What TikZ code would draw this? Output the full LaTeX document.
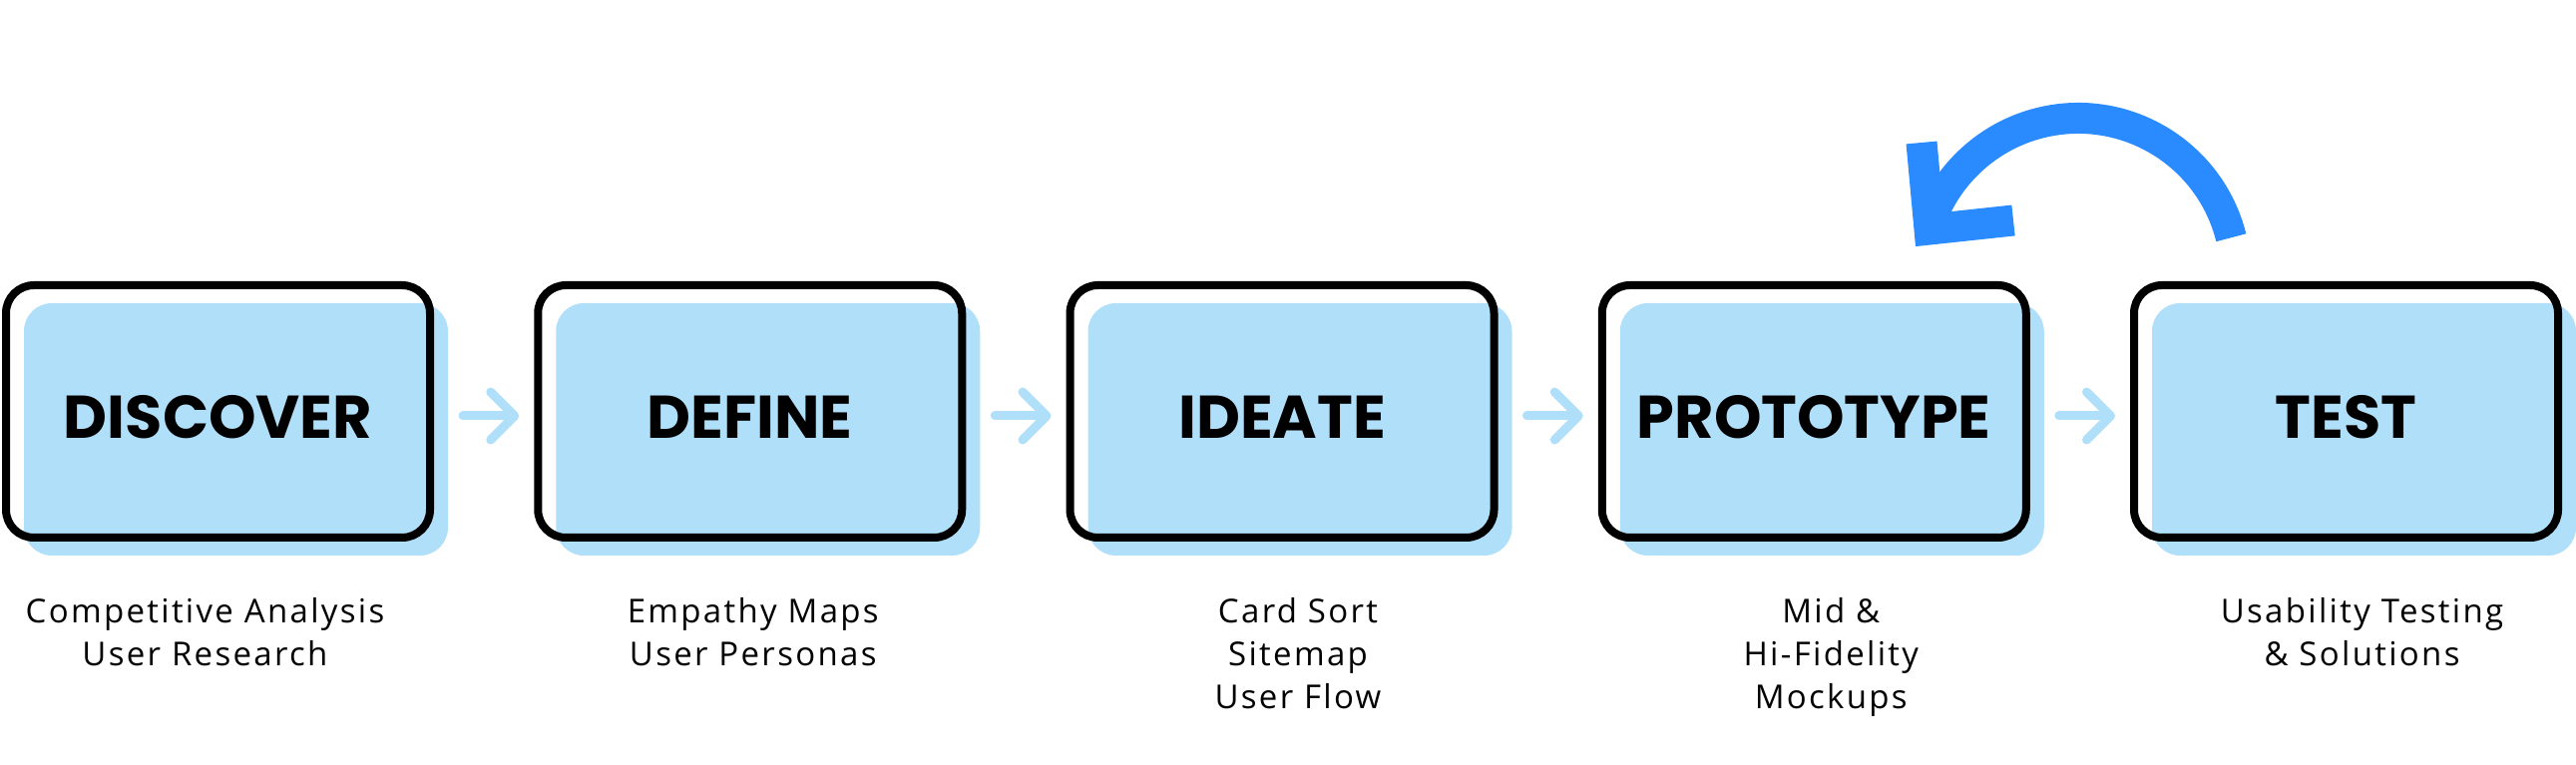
\documentclass[tikz,border=0pt]{standalone}
\usepackage{fontspec}
\setmainfont{Open Sans}[LetterSpace=7, Ligatures=NoCommon]
\newfontfamily\stagefont{Poppins}
\usetikzlibrary{positioning,shadows,arrows.meta}

\definecolor{paleblue}{RGB}{176,223,250}
\definecolor{loopblue}{RGB}{41,139,255}

\tikzset{
  stage/.style={draw=black, line width=8pt, rounded corners=28pt,
    minimum width=425pt, minimum height=253pt, inner sep=0pt,
    text height=55pt, text depth=0pt,
    font=\stagefont\bfseries\fontsize{60.5}{60.5}\selectfont,
    general shadow={fill=paleblue, shadow xshift=18pt, shadow yshift=-18pt}},
  desc/.style={align=center, inner sep=0pt, outer sep=0pt,
    font=\fontsize{33}{43.3}\selectfont},
  flow/.style={draw=paleblue, line width=9pt, line cap=round,
    -{Straight Barb[length=24pt, width=48pt, round]}},
  loopback/.style={draw=loopblue, line width=31pt}
}

\begin{document}
\begin{tikzpicture}[x=1pt, y=1pt]
  \useasboundingbox (0,0) rectangle (2582,767);

  % Stages
  \node[stage] (b1) at (218.5,354.5) {DISCOVER};
  \node[stage] (b2) at (751.75,354.5) {DEFINE};
  \node[stage] (b3) at (1285,354.5) {IDEATE};
  \node[stage] (b4) at (1818.25,354.5) {PROTOTYPE};
  \node[stage] (b5) at (2351.5,354.5) {TEST};

  % What each stage covers
  \node[desc, below=56pt of b1, xshift=-13pt] (d1) {Competitive Analysis\\User Research};
  \node[desc, below=56pt of b2, xshift=3pt] (d2) {Empathy Maps\\User Personas};
  \node[desc, below=56pt of b3, xshift=16pt] (d3) {Card Sort\\Sitemap\\User Flow};
  \node[desc, below=56pt of b4, xshift=17pt] (d4) {Mid \&\\Hi-Fidelity\\Mockups};
  \node[desc, below=56pt of b5, xshift=16pt] (d5) {Usability Testing\\\& Solutions};

  % Flow between stages
  \draw[flow] ([shift={(29pt,-4.5pt)}]b1.east) -- ([shift={(-15pt,-4.5pt)}]b2.west);
  \draw[flow] ([shift={(29pt,-4.5pt)}]b2.east) -- ([shift={(-15pt,-4.5pt)}]b3.west);
  \draw[flow] ([shift={(29pt,-4.5pt)}]b3.east) -- ([shift={(-15pt,-4.5pt)}]b4.west);
  \draw[flow] ([shift={(29pt,-4.5pt)}]b4.east) -- ([shift={(-15pt,-4.5pt)}]b5.west);

  % Loop back from test to prototype
  \coordinate (loopc) at (2083,490.5);
  \coordinate (looptip) at (1934,537);
  \draw[loopback] ([shift={(14:158pt)}]loopc) arc[start angle=14, end angle=160, radius=158pt];
  \draw[loopback, line join=miter] ([shift={(-8pt,87pt)}]looptip) -- (looptip) -- ([shift={(84pt,9pt)}]looptip);
\end{tikzpicture}
\end{document}
